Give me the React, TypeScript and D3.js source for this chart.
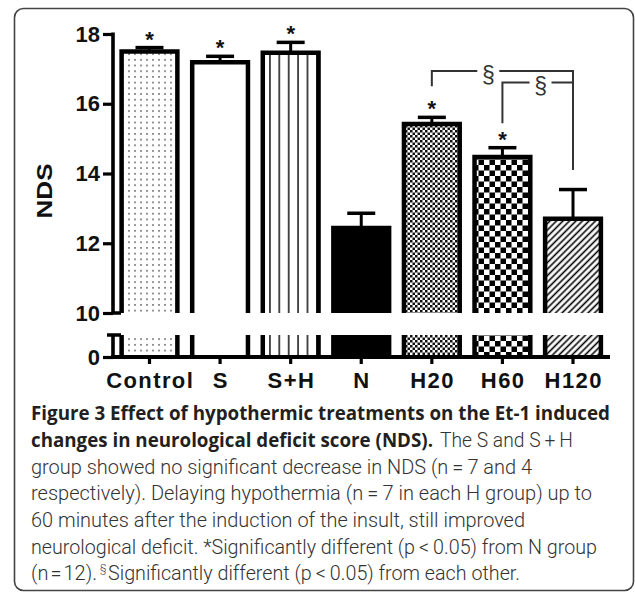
import { useEffect, useRef } from 'react';
import { select, scaleBand, scaleLinear, axisLeft, axisBottom } from 'd3';

// NDS per group (mean and SEM)
const groups = ['Control', 'S', 'S+H', 'N', 'H20', 'H60', 'H120'];
const meanNDS = [17.5, 17.19, 17.46, 12.44, 15.42, 14.47, 12.7];
const semNDS = [0.11, 0.17, 0.3, 0.42, 0.19, 0.27, 0.84];
const starred = [true, true, true, false, true, true, false];
const fills = ['url(#dots)', '#fff', 'url(#vlines)', '#000', 'url(#checkFine)', 'url(#checkCoarse)', 'url(#hatch)'];
const yTicks = [10, 12, 14, 16, 18];
const lowTicks = [0];

// significance brackets: level of the bar, and where each leg ends
const brackets = [
  { from: 'H20', to: 'H120', level: 16.94, fromEnd: 16.5, toEnd: 14.1, labelAt: 0.4 },
  { from: 'H60', to: 'H120', level: 16.61, fromEnd: 15.44, toEnd: 16.61, labelAt: 0.54 },
];

const captionBold = 'Figure 3 Effect of hypothermic treatments on the Et-1 induced';
const captionBold2 = 'changes in neurological deficit score (NDS).';
const captionLines = [
  'group showed no significant decrease in NDS (n\u2009=\u20097 and 4',
  'respectively). Delaying hypothermia (n\u2009=\u20097 in each H group) up to',
  '60 minutes after the induction of the insult, still improved',
  'neurological deficit. *Significantly different (p\u2009<\u20090.05) from N group',
];

export default function App() {
  const svgRef = useRef<SVGSVGElement>(null);

  useEffect(() => {
    if (!svgRef.current) return;
    const svg = select(svgRef.current);
    svg.selectAll('*').remove();

    const width = 635;
    const height = 593;
    svg.attr('width', width).attr('height', height);

    svg.append('rect').attr('width', width).attr('height', height).attr('fill', '#fff');

    // Frame
    svg.append('rect')
      .attr('x', 14.5).attr('y', 8.5)
      .attr('width', 619).attr('height', 582)
      .attr('rx', 9)
      .attr('fill', 'none')
      .attr('stroke', '#444')
      .attr('stroke-width', 1.6);

    // Patterns
    const defs = svg.append('defs');
    const dots = defs.append('pattern').attr('id', 'dots')
      .attr('patternUnits', 'userSpaceOnUse').attr('width', 6).attr('height', 5.7);
    dots.append('rect').attr('width', 6).attr('height', 5.7).attr('fill', '#fff');
    dots.append('circle').attr('cx', 3).attr('cy', 2.8).attr('r', 0.8).attr('fill', '#444');

    const vlines = defs.append('pattern').attr('id', 'vlines')
      .attr('patternUnits', 'userSpaceOnUse').attr('width', 9.4).attr('height', 10).attr('x', 2);
    vlines.append('rect').attr('width', 9.4).attr('height', 10).attr('fill', '#fff');
    vlines.append('line').attr('x1', 4.7).attr('x2', 4.7).attr('y1', 0).attr('y2', 10)
      .attr('stroke', '#000').attr('stroke-width', 1.4);

    const checkFine = defs.append('pattern').attr('id', 'checkFine')
      .attr('patternUnits', 'userSpaceOnUse').attr('width', 5).attr('height', 5);
    checkFine.append('rect').attr('width', 5).attr('height', 5).attr('fill', '#fff');
    checkFine.append('rect').attr('width', 2.5).attr('height', 2.5).attr('fill', '#111');
    checkFine.append('rect').attr('x', 2.5).attr('y', 2.5).attr('width', 2.5).attr('height', 2.5).attr('fill', '#111');

    const checkCoarse = defs.append('pattern').attr('id', 'checkCoarse')
      .attr('patternUnits', 'userSpaceOnUse').attr('width', 11).attr('height', 11);
    checkCoarse.append('rect').attr('width', 11).attr('height', 11).attr('fill', '#fff');
    checkCoarse.append('rect').attr('width', 5.5).attr('height', 5.5).attr('fill', '#000');
    checkCoarse.append('rect').attr('x', 5.5).attr('y', 5.5).attr('width', 5.5).attr('height', 5.5).attr('fill', '#000');

    const hatch = defs.append('pattern').attr('id', 'hatch')
      .attr('patternUnits', 'userSpaceOnUse').attr('width', 4.6).attr('height', 10)
      .attr('patternTransform', 'rotate(45)');
    hatch.append('rect').attr('width', 4.6).attr('height', 10).attr('fill', '#fff');
    hatch.append('line').attr('x1', 2.3).attr('x2', 2.3).attr('y1', 0).attr('y2', 10)
      .attr('stroke', '#000').attr('stroke-width', 1.6);

    // Scales (broken y axis: 10-18 on top, 0 segment below)
    const x = scaleBand<string>()
      .domain(groups)
      .range([114.2, 608.3])
      .paddingInner(0.21)
      .paddingOuter(0.105);
    const bw = x.bandwidth();
    const yTop = scaleLinear().domain([10, 18]).range([313, 34]);
    const yLow = scaleLinear().domain([0, 1]).range([357, 335]);
    const axisX = 113;
    const axisFont = '"Liberation Sans", Arial, sans-serif';

    // Bars
    const barStroke = 4.5;
    groups.forEach((g, i) => {
      const x0 = x(g) || 0;
      const x1 = x0 + bw;
      const v = meanNDS[i];
      // upper segment
      svg.append('rect')
        .attr('x', x0).attr('y', yTop(v))
        .attr('width', bw).attr('height', yTop(10) - yTop(v))
        .attr('fill', fills[i]);
      svg.append('path')
        .attr('d', `M${x0},${yTop(10)}V${yTop(v)}H${x1}V${yTop(10)}`)
        .attr('fill', 'none')
        .attr('stroke', '#000')
        .attr('stroke-width', barStroke)
        .attr('stroke-linejoin', 'miter');
      // lower segment
      svg.append('rect')
        .attr('x', x0).attr('y', yLow(1))
        .attr('width', bw).attr('height', yLow(0) - yLow(1))
        .attr('fill', fills[i]);
      svg.append('path')
        .attr('d', `M${x0},${yLow(1)}V${yLow(0)}M${x1},${yLow(1)}V${yLow(0)}`)
        .attr('stroke', '#000')
        .attr('stroke-width', barStroke);

      // error bar
      const cx = x0 + bw / 2;
      const top = yTop(v + semNDS[i]);
      svg.append('line')
        .attr('x1', cx).attr('x2', cx)
        .attr('y1', yTop(v)).attr('y2', top)
        .attr('stroke', '#000').attr('stroke-width', 3);
      svg.append('line')
        .attr('x1', cx - 14).attr('x2', cx + 14)
        .attr('y1', top).attr('y2', top)
        .attr('stroke', '#000').attr('stroke-width', 3.5);

      if (starred[i]) {
        svg.append('text')
          .attr('x', cx).attr('y', top - 1)
          .attr('text-anchor', 'middle')
          .attr('font-family', axisFont)
          .attr('font-weight', 'bold')
          .attr('font-size', 22)
          .attr('fill', '#111')
          .text('*');
      }
    });

    // Y axis, upper part
    const gy = svg.append('g')
      .attr('transform', `translate(${axisX},0)`)
      .call(axisLeft(yTop).tickValues(yTicks).tickSize(10).tickSizeOuter(0).tickPadding(3).tickFormat((d) => `${d}`));
    gy.select('.domain').remove();
    gy.selectAll('.tick line').attr('stroke', '#000').attr('stroke-width', 3.2);
    gy.selectAll('.tick text')
      .attr('font-family', axisFont)
      .attr('font-weight', 'bold')
      .attr('font-size', 22)
      .attr('fill', '#111');
    svg.append('path')
      .attr('d', `M${axisX},${yTop(18) - 1.5}V${yTop(10)}H${axisX + 8}`)
      .attr('fill', 'none')
      .attr('stroke', '#000')
      .attr('stroke-width', 3.6);

    // Y axis, lower part
    const gl = svg.append('g')
      .attr('transform', `translate(${axisX},0)`)
      .call(axisLeft(yLow).tickValues(lowTicks).tickSize(10).tickSizeOuter(0).tickPadding(3).tickFormat((d) => `${d}`));
    gl.select('.domain').remove();
    gl.selectAll('.tick line').attr('stroke', '#000').attr('stroke-width', 3.2);
    gl.selectAll('.tick text')
      .attr('font-family', axisFont)
      .attr('font-weight', 'bold')
      .attr('font-size', 22)
      .attr('fill', '#111');
    svg.append('path')
      .attr('d', `M${axisX - 6},${yLow(1)}H${axisX + 8}M${axisX},${yLow(1)}V${yLow(0)}`)
      .attr('fill', 'none')
      .attr('stroke', '#000')
      .attr('stroke-width', 3.6);

    // X axis
    const gx = svg.append('g')
      .attr('transform', `translate(0,${yLow(0)})`)
      .call(axisBottom(x).tickSize(7).tickSizeOuter(0).tickPadding(8));
    gx.select('.domain').remove();
    gx.selectAll('.tick line').attr('stroke', '#000').attr('stroke-width', 3.2);
    gx.selectAll('.tick text')
      .attr('font-family', axisFont)
      .attr('font-weight', 'bold')
      .attr('font-size', 22)
      .attr('letter-spacing', 1.4)
      .attr('dx', 0.7)
      .attr('fill', '#111');
    svg.append('line')
      .attr('x1', axisX - 1.8).attr('x2', 610)
      .attr('y1', yLow(0)).attr('y2', yLow(0))
      .attr('stroke', '#000')
      .attr('stroke-width', 4);

    // Y label
    svg.append('text')
      .attr('transform', `translate(52,${yTop(13.5)}) rotate(-90)`)
      .attr('text-anchor', 'middle')
      .attr('font-family', axisFont)
      .attr('font-weight', 'bold')
      .attr('font-size', 22)
      .attr('textLength', 55)
      .attr('lengthAdjust', 'spacingAndGlyphs')
      .attr('fill', '#111')
      .text('NDS');

    // Significance brackets
    brackets.forEach((b) => {
      const xa = (x(b.from) || 0) + bw / 2;
      const xb = (x(b.to) || 0) + bw / 2;
      const yl = yTop(b.level);
      const lx = xa + (xb - xa) * b.labelAt;
      const gap = 11;
      svg.append('path')
        .attr('d', `M${xa},${yTop(b.fromEnd)}V${yl}H${lx - gap}M${lx + gap},${yl}H${xb}V${yTop(b.toEnd)}`)
        .attr('fill', 'none')
        .attr('stroke', '#333')
        .attr('stroke-width', 2);
      svg.append('text')
        .attr('x', lx).attr('y', yl + 12)
        .attr('text-anchor', 'middle')
        .attr('font-family', axisFont)
        .attr('font-size', 23)
        .attr('fill', '#333')
        .text('\u00a7');
    });

    // Caption
    const boldFont = '"Open Sans", "Noto Sans", sans-serif';
    const bodyFont = 'Roboto, "Open Sans", sans-serif';
    const lineY = [420, 447, 473.5, 500, 527, 553.5, 580];
    const lineEnd = [610, 433, 532, 592, 525, 597, 520];
    const capX = 31;

    const body = (xPos: number, yPos: number, len: number | null, t: string) => {
      const el = svg.append('text')
        .attr('x', xPos).attr('y', yPos)
        .attr('font-family', bodyFont).attr('font-weight', 300).attr('font-size', 20)
        .attr('fill', '#333')
        .text(t);
      if (len) el.attr('textLength', len).attr('lengthAdjust', 'spacingAndGlyphs');
      return el;
    };

    svg.append('text')
      .attr('x', capX).attr('y', lineY[0])
      .attr('font-family', boldFont).attr('font-weight', 700).attr('font-size', 19.5)
      .attr('fill', '#231f20')
      .attr('textLength', lineEnd[0] - capX).attr('lengthAdjust', 'spacingAndGlyphs')
      .text(captionBold);
    svg.append('text')
      .attr('x', capX).attr('y', lineY[1])
      .attr('font-family', boldFont).attr('font-weight', 700).attr('font-size', 19.5)
      .attr('fill', '#231f20')
      .attr('textLength', lineEnd[1] - capX).attr('lengthAdjust', 'spacingAndGlyphs')
      .text(captionBold2);
    body(440, lineY[1], 573 - 440, 'The S and S\u2009+\u2009H');

    captionLines.forEach((t, i) => {
      body(capX, lineY[i + 2], lineEnd[i + 2] - capX, t);
    });

    // last line: "(n = 12)." then superscript section sign, then the rest
    const first = body(capX, lineY[6], null, '(n\u200a=\u200a12).');
    const node = first.node() as SVGTextElement | null;
    const w = node ? node.getComputedTextLength() : 56;
    const secX = capX + w + 3;
    svg.append('text')
      .attr('x', secX).attr('y', lineY[6] - 8)
      .attr('font-family', bodyFont).attr('font-weight', 300).attr('font-size', 10.5)
      .attr('fill', '#333')
      .text('\u00a7');
    const restX = secX + 8;
    body(restX, lineY[6], lineEnd[6] - restX, 'Significantly different (p\u2009<\u20090.05) from each other.');
  }, []);

  return (
    <svg
      ref={svgRef}
      style={{ position: 'absolute', left: 0, top: 0, display: 'block' }}
    />
  );
}
